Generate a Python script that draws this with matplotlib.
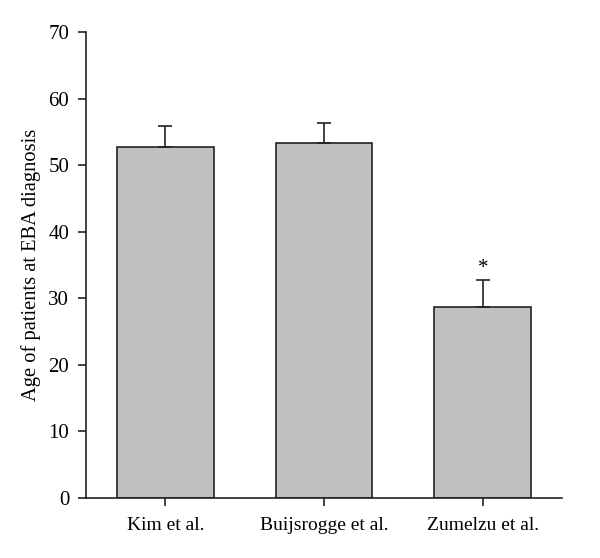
import matplotlib.pyplot as plt

studies = ['Kim et al.', 'Buijsrogge et al.', 'Zumelzu et al.']
ages = [52.8, 53.3, 28.7]
errors = [3.1, 3.0, 4.1]
marks = ['', '', '*']

plt.rcParams['font.family'] = ['Liberation Serif', 'DejaVu Serif']

fig = plt.figure(figsize=(6, 5.58), dpi=100)
ax = fig.add_axes([0.143, 0.1075, 0.794, 0.835])

x = range(len(studies))
ax.bar(x, ages, width=0.61, color='#c0c0c0', edgecolor='#222222', linewidth=1.2)
ax.errorbar(x, ages, yerr=[[0] * len(ages), errors], fmt='none', ecolor='#222222',
            elinewidth=1.2, capsize=5, capthick=1.2)
for i in x:
    if marks[i]:
        ax.text(i, ages[i] + errors[i] + 0.3, marks[i], ha='center', va='bottom', fontsize=15)

ax.set_xlim(-0.5, 2.5)
ax.set_ylim(0, 70)
ax.set_yticks(range(0, 71, 10))
ax.set_xticks(list(x))
ax.set_xticklabels(studies)
ax.set_ylabel('Age of patients at EBA diagnosis', fontsize=14.8, labelpad=5)
ax.tick_params(axis='y', labelsize=15, width=1.2, length=6, color='#222222', pad=6)
ax.tick_params(axis='x', labelsize=14, width=1.2, length=6, color='#222222', pad=8)
for s in ['top', 'right']:
    ax.spines[s].set_visible(False)
for s in ['left', 'bottom']:
    ax.spines[s].set_linewidth(1.2)
    ax.spines[s].set_color('#222222')

fig.savefig('out.png')
